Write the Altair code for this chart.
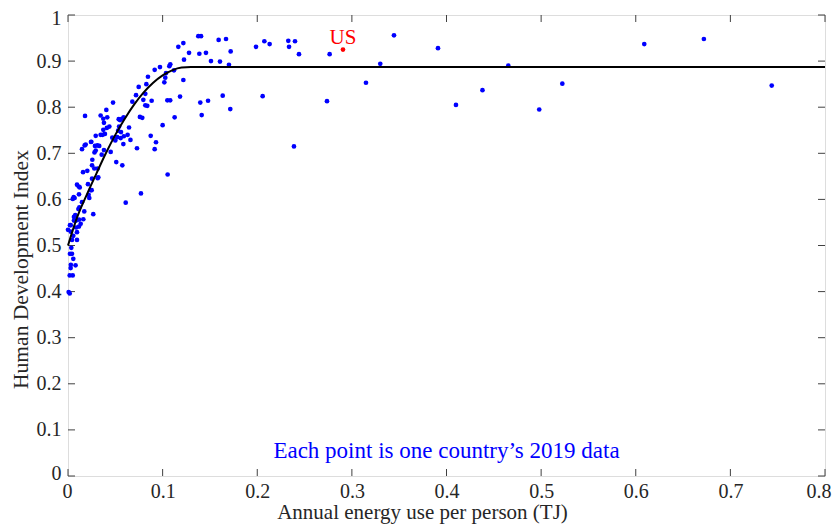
import altair as alt
import pandas as pd

# scatter data: energy per person (TJ), HDI
energy = [0.7437,0.672,0.609,0.5224,0.498,0.4653,0.438,0.410,0.391,0.3445,0.330,0.3149,0.2765,0.2737,0.2441,0.2399,0.2388,0.2336,0.2328,0.2131,0.2075,0.2057,0.1987,
0.1719,0.1715,0.1701,0.1670,0.1635,0.1606,0.1592,0.1511,0.1480,0.1458,0.1413,0.1406,0.1398,0.1388,0.1377,0.1279,0.1226,0.1219,0.1219,0.1184,0.1166,0.1127,0.1120,0.1081,0.1071,0.1080,0.1050,0.1053,0.1036,0.1028,0.1018,0.1000,
0.0972,0.0930,0.0916,0.0916,0.0884,0.0874,0.0845,0.0838,0.0828,0.0817,0.0817,0.0796,0.0785,0.0771,0.0760,0.0747,0.0729,0.0719,0.0680,0.0660,0.0645,0.0630,0.0610,0.0590,0.0588,0.0585,0.0574,0.0571,0.0560,0.0557,0.0550,0.0540,0.0536,0.0530,0.0520,0.0510,0.0500,
0.0476,0.0468,0.0451,0.0437,0.0415,0.0410,0.0405,0.0390,0.0380,0.0380,0.0373,0.0373,0.0366,0.0356,0.0345,0.0345,0.0330,0.0320,0.0314,0.0314,0.0310,
0.0293,0.0293,0.0285,0.0278,0.0280,0.0267,0.0257,0.0254,0.0254,0.0250,0.0246,0.0243,0.0240,0.0225,0.0218,0.0211,0.0204,
0.0187,0.0180,0.0176,0.0172,0.0162,0.0159,0.0148,0.0148,0.0134,0.0124,0.0120,0.0116,0.0116,0.0113,0.0110,0.0095,0.0095,0.0095,0.0116,
0.0085,0.0085,0.0080,0.0077,0.0070,0.0063,0.0063,0.0060,0.0056,0.0056,0.0050,0.0050,0.0042,0.0042,0.0035,0.0030,0.0030,0.0028,0.0021,0.0021,0.0018,0.0018,0.0007,0.0000,0.0029]
hdi = [0.847,0.948,0.937,0.851,0.795,0.890,0.837,0.805,0.928,0.956,0.894,0.853,0.915,0.813,0.915,0.943,0.715,0.931,0.944,0.937,0.943,0.824,0.931,
0.921,0.796,0.892,0.948,0.825,0.899,0.946,0.900,0.814,0.918,0.783,0.954,0.810,0.916,0.954,0.918,0.903,0.939,0.859,0.823,0.931,0.778,0.880,0.893,0.889,0.815,0.815,0.654,0.874,0.864,0.854,0.761,
0.887,0.724,0.881,0.709,0.814,0.738,0.866,0.803,0.850,0.829,0.804,0.816,0.777,0.613,0.779,0.844,0.711,0.826,0.812,0.729,0.756,0.740,0.593,0.737,0.778,0.720,0.674,0.775,0.746,0.733,0.772,0.758,0.774,0.749,0.735,0.681,0.728,
0.810,0.734,0.703,0.758,0.778,0.755,0.794,0.742,0.766,0.707,0.775,0.751,0.740,0.697,0.782,0.740,0.716,0.648,0.667,0.646,0.717,
0.738,0.706,0.716,0.667,0.702,0.568,0.686,0.674,0.645,0.620,0.725,0.7245,0.620,0.603,0.610,0.633,0.662,
0.719,0.781,0.717,0.574,0.557,0.659,0.709,0.594,0.547,0.626,0.583,0.611,0.556,0.628,0.579,0.632,0.529,0.512,0.541,
0.554,0.539,0.457,0.566,0.603,0.562,0.554,0.605,0.521,0.471,0.601,0.435,0.512,0.482,0.495,0.530,0.458,0.451,0.544,0.482,0.435,0.396,0.399,0.534,0.544]

us_energy = [0.2906]
us_hdi = [0.925]

# fitted curve
fit_x = [0, 0.01, 0.02, 0.03, 0.04, 0.05, 0.06, 0.07, 0.08, 0.09, 0.10, 0.11, 0.12, 0.13, 0.8]
fit_y = [0.500, 0.563, 0.611, 0.656, 0.700, 0.740, 0.775, 0.806, 0.832, 0.853, 0.869, 0.880, 0.886, 0.887, 0.887]

x_ticks = [0, 0.1, 0.2, 0.3, 0.4, 0.5, 0.6, 0.7, 0.8]
y_ticks = [0, 0.1, 0.2, 0.3, 0.4, 0.5, 0.6, 0.7, 0.8, 0.9, 1.0]

W, H = 757, 461
FONT = "Liberation Serif"
TXT = "#262626"
TICK = "#404040"

xs = alt.Scale(domain=[0, 0.8], nice=False, zero=False)
ys = alt.Scale(domain=[0, 1], nice=False, zero=False)

pts = pd.DataFrame({"e": energy, "h": hdi})
us = pd.DataFrame({"e": us_energy, "h": us_hdi, "t": ["US"]})
fit = pd.DataFrame({"e": fit_x, "h": fit_y})
xt = pd.DataFrame({"v": x_ticks})
yt = pd.DataFrame({"v": y_ticks})

xaxis = alt.Axis(values=x_ticks, format="~g", ticks=False, tickSize=0, domain=False, grid=False,
                 labelFont=FONT, labelFontSize=20, labelColor=TXT, labelPadding=5,
                 labelFlush=True, labelFlushOffset=6,
                 title="Annual energy use per person (TJ)", titleFont=FONT, titleFontSize=21,
                 titleFontWeight="normal", titleColor=TXT, titleX=354, titleY=25, titleBaseline="top")
yaxis = alt.Axis(values=y_ticks, format="~g", ticks=False, tickSize=0, domain=False, grid=False,
                 labelFont=FONT, labelFontSize=20, labelColor=TXT, labelPadding=7,
                 labelFlush=True, labelFlushOffset=7,
                 title="Human Development Index", titleFont=FONT, titleFontSize=21.5,
                 titleFontWeight="normal", titleColor=TXT, titleY=254, titleX=-41,
                 titleBaseline="alphabetic")

scatter = alt.Chart(pts).mark_circle(size=22, color="#0000ff", opacity=1).encode(
    x=alt.X("e:Q", scale=xs, axis=xaxis),
    y=alt.Y("h:Q", scale=ys, axis=yaxis),
)
line = alt.Chart(fit).mark_line(color="black", strokeWidth=2, interpolate="monotone").encode(
    x=alt.X("e:Q", scale=xs), y=alt.Y("h:Q", scale=ys))
usp = alt.Chart(us).mark_circle(size=22, color="#ff0000", opacity=1).encode(
    x=alt.X("e:Q", scale=xs), y=alt.Y("h:Q", scale=ys))
ust = alt.Chart(us).mark_text(color="#ff0000", font=FONT, fontSize=21, dy=-6, baseline="alphabetic").encode(
    x=alt.X("e:Q", scale=xs), y=alt.Y("h:Q", scale=ys), text="t:N")
note = alt.Chart(pd.DataFrame({"e": [0.40], "h": [0.038], "t": ["Each point is one country\u2019s 2019 data"]})).mark_text(
    color="#0000ff", font=FONT, fontSize=23, baseline="alphabetic").encode(
    x=alt.X("e:Q", scale=xs), y=alt.Y("h:Q", scale=ys), text="t:N")

TL = 7
bt = alt.Chart(xt).mark_rule(color=TICK, strokeWidth=1).encode(
    x=alt.X("v:Q", scale=xs), y=alt.value(H), y2=alt.value(H - TL))
tt = alt.Chart(xt).mark_rule(color=TICK, strokeWidth=1).encode(
    x=alt.X("v:Q", scale=xs), y=alt.value(0), y2=alt.value(TL))
lt = alt.Chart(yt).mark_rule(color=TICK, strokeWidth=1).encode(
    y=alt.Y("v:Q", scale=ys), x=alt.value(0), x2=alt.value(TL))
rt = alt.Chart(yt).mark_rule(color=TICK, strokeWidth=1).encode(
    y=alt.Y("v:Q", scale=ys), x=alt.value(W - TL), x2=alt.value(W))

chart = alt.layer(bt, tt, lt, rt, scatter, line, usp, ust, note).properties(
    width=W, height=H,
    autosize=alt.AutoSizeParams(type="none"),
    padding={"left": 60, "top": 7, "right": 7, "bottom": 48},
).configure_view(stroke="#555555", strokeWidth=1).configure(background="white")

chart.save("out.html", embed_options={"renderer": "svg", "actions": False})
